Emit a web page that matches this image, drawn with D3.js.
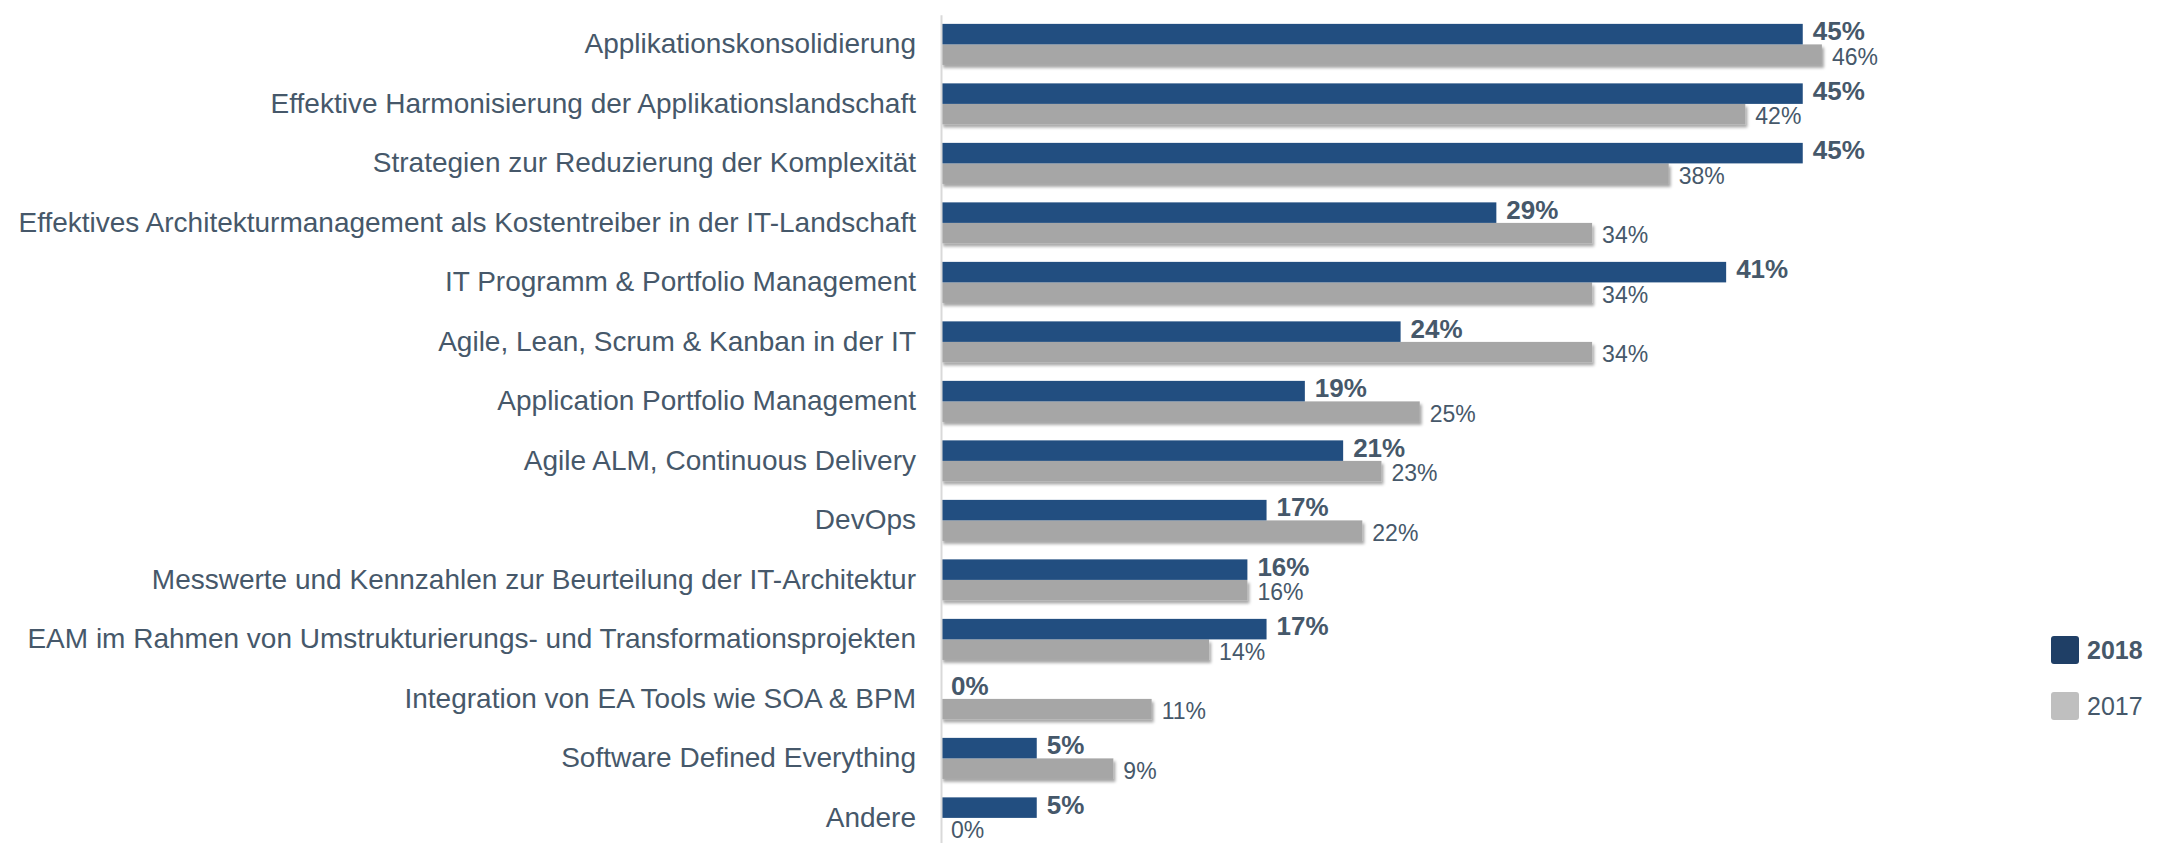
<!DOCTYPE html>
<html>
<head>
<meta charset="utf-8">
<script src="https://cdn.jsdelivr.net/npm/d3@7"></script>
<style>
  body { margin: 0; background: #fff; }
  text { font-family: "Liberation Sans", Arial, sans-serif; fill: #46586a; }
</style>
</head>
<body>
<script>
// categories top to bottom
const categories = [
    "Applikationskonsolidierung",
    "Effektive Harmonisierung der Applikationslandschaft",
    "Strategien zur Reduzierung der Komplexität",
    "Effektives Architekturmanagement als Kostentreiber in der IT-Landschaft",
    "IT Programm & Portfolio Management",
    "Agile, Lean, Scrum & Kanban in der IT",
    "Application Portfolio Management",
    "Agile ALM, Continuous Delivery",
    "DevOps",
    "Messwerte und Kennzahlen zur Beurteilung der IT-Architektur",
    "EAM im Rahmen von Umstrukturierungs- und Transformationsprojekten",
    "Integration von EA Tools wie SOA & BPM",
    "Software Defined Everything",
    "Andere"
];
const values2018 = [45, 45, 45, 29, 41, 24, 19, 21, 17, 16, 17, 0, 5, 5];
const values2017 = [46, 42, 38, 34, 34, 34, 25, 23, 22, 16, 14, 11, 9, 0];
const seriesNames = ["2018", "2017"];

const width = 2174, height = 843;
const blue = "#224e80", gray = "#a6a6a6";

var svg = d3.select("body").append("svg")
    .attr("width", width)
    .attr("height", height);

// shadow under the bars
var defs = svg.append("defs");
var f = defs.append("filter").attr("id", "shadow")
    .attr("x", "-5%").attr("y", "-30%").attr("width", "110%").attr("height", "180%");
f.append("feDropShadow")
    .attr("dx", 2).attr("dy", 3)
    .attr("stdDeviation", 1.5)
    .attr("flood-color", "#000")
    .attr("flood-opacity", 0.35);

var x = d3.scaleLinear().domain([0, 50]).range([941, 941 + 50 * 19.15]);

var step = 59.5;
var y = d3.scaleBand()
    .domain(categories)
    .range([44.4 - step / 2, 44.4 + step * (categories.length - 0.5)])
    .paddingInner(0.31)
    .paddingOuter(0.155);
var bw = y.bandwidth();

var rows = categories.map(function(c, i) {
    return { cat: c, v18: values2018[i], v17: values2017[i] };
});

// gray bars (2017) first, then blue on top
svg.selectAll(".bar17")
    .data(rows)
    .enter().append("rect")
    .attr("class", "bar17")
    .attr("x", x(0))
    .attr("y", d => y(d.cat) + bw / 2)
    .attr("width", d => x(d.v17) - x(0))
    .attr("height", bw / 2)
    .attr("fill", gray)
    .attr("filter", "url(#shadow)");

svg.selectAll(".bar18")
    .data(rows)
    .enter().append("rect")
    .attr("class", "bar18")
    .attr("x", x(0))
    .attr("y", d => y(d.cat))
    .attr("width", d => x(d.v18) - x(0))
    .attr("height", bw / 2)
    .attr("fill", blue);

// y axis with category labels
var yAxis = svg.append("g")
    .attr("transform", "translate(" + x(0) + ",0)")
    .call(d3.axisLeft(y).tickSize(0).tickSizeOuter(0).tickPadding(25));
yAxis.select(".domain")
    .attr("stroke", "#d9d9d9")
    .attr("stroke-width", 2);
yAxis.selectAll(".tick text")
    .attr("font-size", 28)
    .style("font-family", "'Liberation Sans', Arial, sans-serif")
    .attr("fill", "#46586a");

// value labels
svg.selectAll(".lab18")
    .data(rows)
    .enter().append("text")
    .attr("class", "lab18")
    .attr("x", d => x(d.v18) + 10)
    .attr("y", d => y(d.cat) + bw / 4 - 3)
    .attr("dy", "0.35em")
    .attr("font-size", 26)
    .attr("font-weight", "bold")
    .text(d => d.v18 + "%");

svg.selectAll(".lab17")
    .data(rows)
    .enter().append("text")
    .attr("class", "lab17")
    .attr("x", d => x(d.v17) + 10)
    .attr("y", d => y(d.cat) + bw * 3 / 4 + 2)
    .attr("dy", "0.35em")
    .attr("font-size", 23)
    .text(d => d.v17 + "%");

// legend
var legend = svg.append("g").attr("transform", "translate(2051,636)");
var legendColors = ["#1f3f66", "#bfbfbf"];
seriesNames.forEach(function(name, i) {
    var g = legend.append("g").attr("transform", "translate(0," + (i * 56) + ")");
    g.append("rect")
        .attr("width", 28).attr("height", 28)
        .attr("rx", 3)
        .attr("fill", legendColors[i]);
    g.append("text")
        .attr("x", 36).attr("y", 14)
        .attr("dy", "0.35em")
        .attr("font-size", 25)
        .attr("font-weight", i === 0 ? "bold" : "normal")
        .text(name);
});
</script>
</body>
</html>
